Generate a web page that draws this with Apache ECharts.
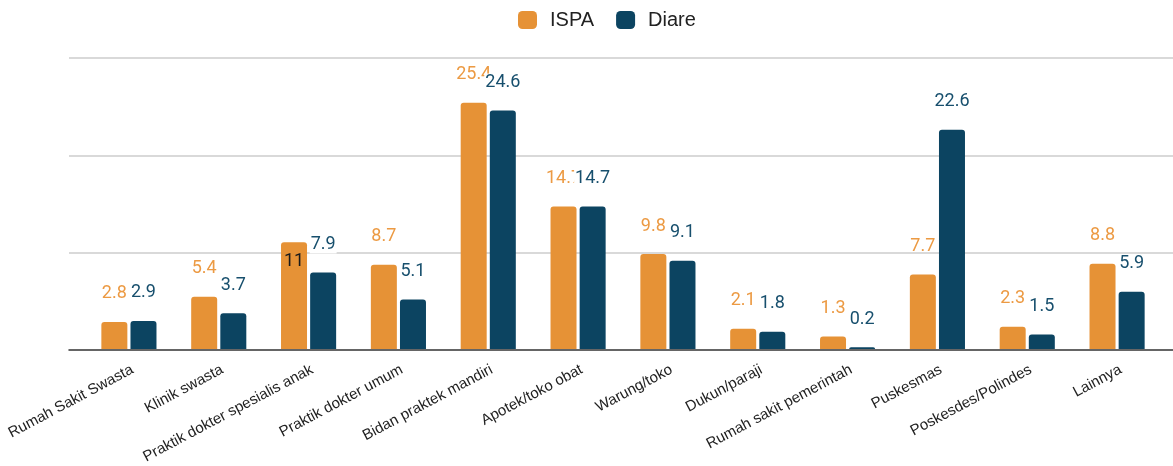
<!DOCTYPE html>
<html>
<head>
<meta charset="utf-8">
<script src="https://cdn.jsdelivr.net/npm/echarts@6/dist/echarts.min.js"></script>
<style>
  html, body { margin: 0; padding: 0; background: #fff; }
  #main { width: 1173px; height: 466px; }
</style>
</head>
<body>
<div id="main"></div>
<script>
// kategori fasilitas
const categories = ['Rumah Sakit Swasta', 'Klinik swasta', 'Praktik dokter spesialis anak', 'Praktik dokter umum',
  'Bidan praktek mandiri', 'Apotek/toko obat', 'Warung/toko', 'Dukun/paraji', 'Rumah sakit pemerintah',
  'Puskesmas', 'Poskesdes/Polindes', 'Lainnya']
const ispa = [2.8, 5.4, 11, 8.7, 25.4, 14.7, 9.8, 2.1, 1.3, 7.7, 2.3, 8.8]
const diare = [2.9, 3.7, 7.9, 5.1, 24.6, 14.7, 9.1, 1.8, 0.2, 22.6, 1.5, 5.9]
const yTicks = [0, 10, 20, 30]

const orange = '#e69236'
const navy = '#0c4461'
const font = 'Roboto, "Liberation Sans", sans-serif'
const sans = '"Liberation Sans", Arial, sans-serif'

const chart = echarts.init(document.getElementById('main'))

// label "11" muat di dalam batang
const ispaData = ispa.map(v => v >= 10.5 && v < 12
  ? { value: v, label: { position: 'insideTop', distance: 10, color: '#1a1a1a' } }
  : v)

const option = {
  animation: false,
  legend: {
    top: 5,
    left: 513,
    itemWidth: 19,
    itemHeight: 18,
    itemGap: 22,
    icon: 'roundRect',
    textStyle: { fontFamily: sans, fontSize: 20, color: '#222', padding: [0, 0, 0, 8] },
    data: ['ISPA', 'Diare']
  },
  grid: [
    // grid bantu untuk garis grid penuh
    { left: 69, right: 0, top: 58, bottom: 116 },
    { left: 84, right: 11, top: 58, bottom: 116 }
  ],
  xAxis: [
    {
      gridIndex: 0, type: 'value', min: 0, max: 1,
      axisLine: { show: true, lineStyle: { color: '#333', width: 1.5 } },
      axisTick: { show: false }, axisLabel: { show: false }, splitLine: { show: false }
    },
    {
      gridIndex: 1, type: 'category', data: categories,
      axisLine: { show: false }, axisTick: { show: false },
      axisLabel: {
        rotate: 28, interval: 0, margin: 13, verticalAlign: 'top',
        fontFamily: sans, fontSize: 15, color: '#222'
      }
    }
  ],
  yAxis: [
    {
      gridIndex: 0, type: 'value', min: yTicks[0], max: yTicks[yTicks.length - 1], interval: 10,
      axisLine: { show: false }, axisTick: { show: false }, axisLabel: { show: false },
      splitLine: { show: true, showMinLine: false, lineStyle: { color: '#cccccc', width: 1.5 } }
    },
    {
      gridIndex: 1, type: 'value', min: yTicks[0], max: yTicks[yTicks.length - 1], interval: 10,
      axisLine: { show: false }, axisTick: { show: false }, axisLabel: { show: false },
      splitLine: { show: false }
    }
  ],
  series: [
    {
      name: 'ISPA', type: 'bar', xAxisIndex: 1, yAxisIndex: 1,
      data: ispaData,
      barWidth: 26, barGap: '12%',
      itemStyle: { color: orange, borderRadius: [3, 3, 0, 0] },
      label: {
        show: true, position: 'top', distance: 19,
        fontFamily: font, fontSize: 18, color: '#ec9a43'
      }
    },
    {
      name: 'Diare', type: 'bar', xAxisIndex: 1, yAxisIndex: 1,
      data: diare,
      barWidth: 26,
      itemStyle: { color: navy, borderRadius: [3, 3, 0, 0] },
      label: {
        show: true, position: 'top', distance: 19,
        fontFamily: font, fontSize: 18, color: '#174f6d',
        backgroundColor: '#fff', padding: [0, 1]
      }
    }
  ]
}

chart.setOption(option)
</script>
</body>
</html>
